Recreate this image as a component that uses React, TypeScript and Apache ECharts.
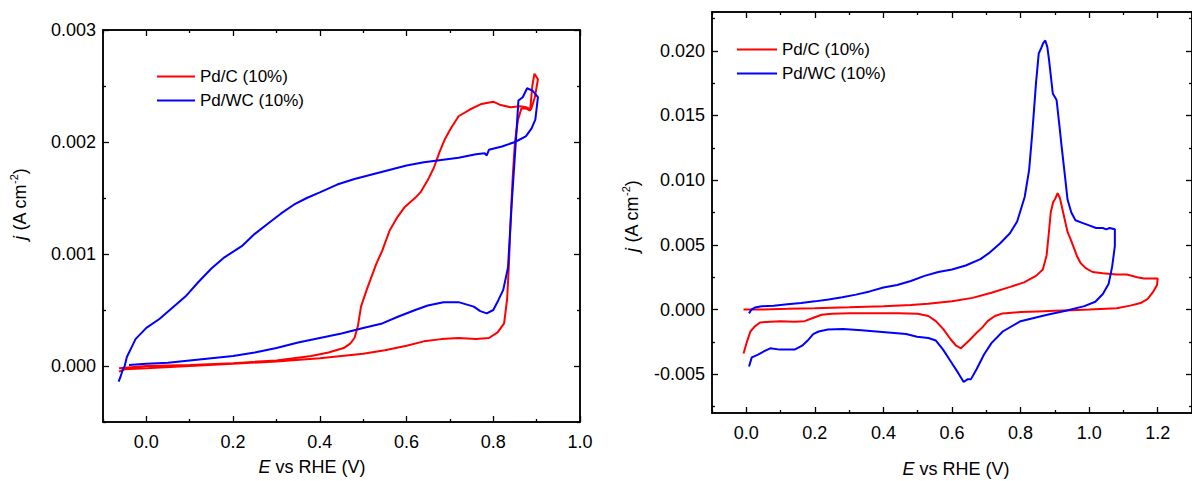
import React, { useEffect, useRef } from 'react';
import * as echarts from 'echarts';

// ---------- data ----------
const seriesNames = ['Pd/C (10%)', 'Pd/WC (10%)'];
const seriesColors = ['#ff0000', '#0000ff'];

const leftXMajor = [0, 0.2, 0.4, 0.6, 0.8, 1.0];
const leftXMinor = [-0.1, 0.1, 0.3, 0.5, 0.7, 0.9];
const leftYMajor = [0, 0.001, 0.002, 0.003];
const leftYMinor = [-0.0005, 0.0005, 0.0015, 0.0025];

const rightXMajor = [0, 0.2, 0.4, 0.6, 0.8, 1.0, 1.2];
const rightXMinor = [-0.1, 0.1, 0.3, 0.5, 0.7, 0.9, 1.1, 1.3];
const rightYMajor = [-0.005, 0, 0.005, 0.01, 0.015, 0.02];
const rightYMinor = [-0.0075, -0.0025, 0.0025, 0.0075, 0.0125, 0.0175, 0.0225];

// Left panel: Pd/C (10%)
const pdcLeft: [number, number][] = [
  [-0.063, -0.00005], [-0.05, -0.00003], [0.0, -0.00002], [0.1, 0.0], [0.2, 0.00002],
  [0.3, 0.00004], [0.4, 0.00007], [0.45, 0.00009], [0.5, 0.00011], [0.55, 0.00014],
  [0.6, 0.00018], [0.64, 0.00022], [0.68, 0.00024], [0.72, 0.00025], [0.76, 0.00024],
  [0.79, 0.00025], [0.81, 0.0003], [0.825, 0.00038], [0.832, 0.0006], [0.836, 0.0009],
  [0.84, 0.0013], [0.845, 0.0017], [0.85, 0.002], [0.857, 0.0022], [0.865, 0.0023],
  [0.875, 0.0023], [0.885, 0.00228], [0.89, 0.0025], [0.895, 0.00261], [0.903, 0.00256],
  [0.896, 0.0024], [0.887, 0.00229], [0.875, 0.00231], [0.862, 0.00232], [0.84, 0.00231],
  [0.817, 0.00233], [0.8, 0.00236], [0.773, 0.00234], [0.746, 0.00229], [0.72, 0.00223],
  [0.702, 0.00212], [0.689, 0.00203], [0.676, 0.00191], [0.663, 0.00177], [0.649, 0.00166],
  [0.632, 0.00155], [0.622, 0.00151], [0.596, 0.00142], [0.579, 0.00133], [0.561, 0.00121],
  [0.544, 0.00103], [0.53, 0.00091], [0.508, 0.00068], [0.495, 0.00053], [0.488, 0.00036],
  [0.48, 0.00025], [0.47, 0.0002], [0.455, 0.00016], [0.42, 0.00012], [0.38, 0.00009],
  [0.3, 0.00005], [0.2, 0.000025], [0.1, 0.00001], [0.0, 0.0], [-0.063, -0.00002],
];

// Left panel: Pd/WC (10%)
const pdwcLeft: [number, number][] = [
  [-0.064, -0.00014], [-0.06, -0.0001], [-0.055, -0.00004], [-0.05, 0.0], [-0.045, 0.00008],
  [-0.035, 0.00016], [-0.025, 0.00024], [-0.01, 0.0003], [0.0, 0.00034], [0.03, 0.00042],
  [0.06, 0.00052], [0.09, 0.00062], [0.12, 0.00075], [0.15, 0.00087], [0.18, 0.00097],
  [0.22, 0.00107], [0.25, 0.00118], [0.28, 0.00127], [0.31, 0.00136], [0.34, 0.00144],
  [0.37, 0.0015], [0.4, 0.00155], [0.44, 0.00162], [0.48, 0.00167], [0.52, 0.00171],
  [0.56, 0.00175], [0.6, 0.00179], [0.64, 0.00182], [0.68, 0.00184], [0.72, 0.00186],
  [0.76, 0.00189], [0.78, 0.0019], [0.785, 0.00188], [0.79, 0.00193], [0.82, 0.00196],
  [0.85, 0.002], [0.875, 0.00205], [0.888, 0.00212], [0.897, 0.0022], [0.903, 0.0024],
  [0.89, 0.00246], [0.878, 0.00248], [0.868, 0.0024], [0.858, 0.00237], [0.852, 0.002],
  [0.843, 0.00148], [0.834, 0.00088], [0.823, 0.00068], [0.812, 0.00059], [0.8, 0.0005],
  [0.785, 0.00047], [0.77, 0.00049], [0.755, 0.00053], [0.72, 0.00057], [0.685, 0.00057],
  [0.649, 0.00054], [0.62, 0.0005], [0.58, 0.00044], [0.544, 0.00038], [0.5, 0.00034],
  [0.45, 0.00029], [0.4, 0.00025], [0.35, 0.00021], [0.3, 0.00016], [0.25, 0.00012],
  [0.2, 0.00009], [0.15, 0.00007], [0.1, 0.00005], [0.05, 0.00003], [0.0, 0.00002],
  [-0.04, 0.00001],
];

// Right panel: Pd/C (10%)
const pdcRight: [number, number][] = [
  [-0.008, 0.0], [0.05, 0.00001], [0.12, 0.00005], [0.2, 0.0001], [0.3, 0.00017],
  [0.4, 0.00025], [0.48, 0.00035], [0.53, 0.00045], [0.6, 0.00064], [0.66, 0.0009],
  [0.715, 0.0013], [0.77, 0.00175], [0.81, 0.0021], [0.845, 0.0026], [0.865, 0.0031],
  [0.876, 0.0042], [0.882, 0.0058], [0.888, 0.0075], [0.895, 0.0083], [0.9, 0.0085],
  [0.908, 0.009], [0.915, 0.0086], [0.925, 0.0074], [0.937, 0.006], [0.945, 0.0055],
  [0.955, 0.0048], [0.965, 0.0041], [0.975, 0.0036], [0.99, 0.0032], [1.01, 0.0029],
  [1.04, 0.0028], [1.08, 0.0027], [1.11, 0.0027], [1.14, 0.0025], [1.16, 0.0024],
  [1.2, 0.0024], [1.198, 0.0019], [1.185, 0.0013], [1.17, 0.0008], [1.15, 0.0005],
  [1.12, 0.0003], [1.08, 0.0001], [1.0, 0.0], [0.95, -0.00005], [0.9, -0.0001],
  [0.85, -0.00015], [0.8, -0.0002], [0.748, -0.0003], [0.725, -0.0005], [0.704, -0.0009],
  [0.688, -0.0014], [0.672, -0.0018], [0.65, -0.0024], [0.626, -0.003], [0.612, -0.0028],
  [0.596, -0.0023], [0.574, -0.0015], [0.553, -0.0009], [0.531, -0.0005], [0.5, -0.00033],
  [0.444, -0.00028], [0.38, -0.00028], [0.3, -0.00028], [0.25, -0.00032], [0.22, -0.0004],
  [0.2, -0.0006], [0.17, -0.0009], [0.14, -0.00095], [0.1, -0.0009], [0.07, -0.00095],
  [0.04, -0.001], [0.025, -0.0013], [0.012, -0.0017], [0.003, -0.0024], [-0.008, -0.0034],
];

// Right panel: Pd/WC (10%)
const pdwcRight: [number, number][] = [
  [0.008, -0.0003], [0.015, 0.0], [0.025, 0.00015], [0.045, 0.00025], [0.08, 0.0003],
  [0.12, 0.0004], [0.16, 0.0005], [0.2, 0.00063], [0.24, 0.00078], [0.28, 0.00095],
  [0.32, 0.00115], [0.36, 0.0014], [0.4, 0.0017], [0.44, 0.0019], [0.48, 0.0022],
  [0.52, 0.0026], [0.56, 0.0029], [0.6, 0.0031], [0.64, 0.0034], [0.683, 0.0039],
  [0.71, 0.0044], [0.74, 0.0051], [0.769, 0.0059], [0.79, 0.0068], [0.812, 0.0087],
  [0.825, 0.0108], [0.834, 0.0136], [0.84, 0.0157], [0.845, 0.0175], [0.853, 0.0198],
  [0.86, 0.0202], [0.866, 0.0206], [0.872, 0.0208], [0.878, 0.0203], [0.883, 0.0193],
  [0.894, 0.0167], [0.905, 0.0162], [0.913, 0.0143], [0.921, 0.0123], [0.93, 0.0102],
  [0.937, 0.0085], [0.948, 0.0075], [0.96, 0.0069], [0.98, 0.0067], [1.0, 0.0065],
  [1.02, 0.0063], [1.04, 0.0063], [1.05, 0.0062], [1.06, 0.0063], [1.075, 0.0062],
  [1.075, 0.0049], [1.067, 0.0033], [1.057, 0.002], [1.04, 0.0012], [1.018, 0.0006],
  [0.986, 0.00026], [0.932, -0.0001], [0.878, -0.0004], [0.8, -0.0009], [0.748, -0.0017],
  [0.715, -0.0026], [0.693, -0.0035], [0.672, -0.0046], [0.655, -0.0054], [0.645, -0.0054],
  [0.634, -0.0056], [0.618, -0.0049], [0.596, -0.004], [0.574, -0.0031], [0.553, -0.0024],
  [0.531, -0.0022], [0.498, -0.0021], [0.466, -0.0019], [0.423, -0.0018], [0.379, -0.0017],
  [0.336, -0.0016], [0.282, -0.0015], [0.238, -0.00155], [0.211, -0.0017], [0.195, -0.0019],
  [0.179, -0.0024], [0.163, -0.0028], [0.141, -0.0031], [0.098, -0.0031], [0.07, -0.003],
  [0.054, -0.0032], [0.033, -0.0035], [0.016, -0.0037], [0.008, -0.0044],
];

// ---------- styling helpers ----------
const FONT = '"Liberation Sans", Arial, Helvetica, sans-serif';
const INK = '#000';

function makeAxis(
  gridIndex: number,
  position: string,
  min: number,
  max: number,
  values: number[],
  tickLen: number,
  labelDecimals: number | null,
  margin: number
) {
  return {
    type: 'value',
    gridIndex,
    position,
    min,
    max,
    axisLine: { show: true, onZero: false, lineStyle: { color: INK, width: 1.5 } },
    splitLine: { show: false },
    axisTick: {
      show: true,
      inside: true,
      length: tickLen,
      customValues: values,
      lineStyle: { color: INK, width: 1.3 },
    },
    axisLabel:
      labelDecimals === null
        ? { show: false }
        : {
            show: true,
            customValues: values,
            formatter: (v: number) => v.toFixed(labelDecimals),
            fontSize: 18,
            fontFamily: FONT,
            color: INK,
            margin,
          },
  };
}

function panelXAxes(g: number, min: number, max: number, major: number[], minor: number[]) {
  return [
    makeAxis(g, 'bottom', min, max, major, 6, 1, 11),
    makeAxis(g, 'bottom', min, max, minor, 3, null, 0),
    makeAxis(g, 'top', min, max, major, 6, null, 0),
    makeAxis(g, 'top', min, max, minor, 3, null, 0),
  ];
}
function panelYAxes(g: number, min: number, max: number, major: number[], minor: number[]) {
  return [
    makeAxis(g, 'left', min, max, major, 6, 3, 7),
    makeAxis(g, 'left', min, max, minor, 3, null, 0),
    makeAxis(g, 'right', min, max, major, 6, null, 0),
    makeAxis(g, 'right', min, max, minor, 3, null, 0),
  ];
}

const titleRich = {
  i: { fontStyle: 'italic', fontSize: 18, fontFamily: FONT, fill: INK, color: INK },
  n: { fontSize: 18, fontFamily: FONT, fill: INK, color: INK },
  sup: { fontSize: 11, fontFamily: FONT, fill: INK, color: INK, verticalAlign: 'top', padding: [0, 0, 12, 0] },
};

function titleText(x: number, y: number, text: string, rotation = 0) {
  return {
    type: 'text',
    x,
    y,
    rotation,
    silent: true,
    style: {
      text,
      rich: titleRich,
      fontSize: 18,
      fontFamily: FONT,
      fill: INK,
      align: 'center',
      verticalAlign: 'middle',
      textAlign: 'center',
      textVerticalAlign: 'middle',
    },
  };
}

function legendAt(left: number, top: number, itemWidth: number) {
  return {
    left,
    top,
    orient: 'vertical',
    icon: 'rect',
    itemWidth,
    itemHeight: 2,
    itemGap: 7,
    selectedMode: false,
    data: seriesNames,
    textStyle: { fontSize: 17, fontFamily: FONT, color: INK },
  };
}

export default function App() {
  const ref = useRef<HTMLDivElement>(null);
  useEffect(() => {
    if (!ref.current) return;
    const chart = echarts.init(ref.current, null, { renderer: 'svg' });
    const option = {
      animation: false,
      backgroundColor: '#fff',
      grid: [
        { left: 103, top: 30, width: 477, height: 392, containLabel: false },
        { left: 712, top: 12, width: 488, height: 401, containLabel: false },
      ],
      xAxis: [
        ...panelXAxes(0, -0.1, 1.0, leftXMajor, leftXMinor),
        ...panelXAxes(1, -0.1, 1.3, rightXMajor, rightXMinor),
      ],
      yAxis: [
        ...panelYAxes(0, -0.0005, 0.003, leftYMajor, leftYMinor),
        ...panelYAxes(1, -0.008, 0.023, rightYMajor, rightYMinor),
      ],
      legend: [legendAt(152, 63, 38), legendAt(732, 36, 40)],
      series: [
        { data: pdcLeft, name: seriesNames[0], color: seriesColors[0], xAxisIndex: 0, yAxisIndex: 0 },
        { data: pdwcLeft, name: seriesNames[1], color: seriesColors[1], xAxisIndex: 0, yAxisIndex: 0 },
        { data: pdcRight, name: seriesNames[0], color: seriesColors[0], xAxisIndex: 4, yAxisIndex: 4 },
        { data: pdwcRight, name: seriesNames[1], color: seriesColors[1], xAxisIndex: 4, yAxisIndex: 4 },
      ].map((s) => ({
        type: 'line',
        name: s.name,
        data: s.data,
        xAxisIndex: s.xAxisIndex,
        yAxisIndex: s.yAxisIndex,
        symbol: 'none',
        showSymbol: false,
        smooth: false,
        clip: true,
        itemStyle: { color: s.color },
        lineStyle: { color: s.color, width: 2 },
      })),
      graphic: [
        titleText(312, 467, '{i|E}{n| vs RHE (V)}'),
        titleText(956, 469, '{i|E}{n| vs RHE (V)}'),
        titleText(20, 204, '{i|j}{n| (A cm}{sup|-2}{n|)}', Math.PI / 2),
        titleText(632, 216, '{i|j}{n| (A cm}{sup|-2}{n|)}', Math.PI / 2),
      ],
    };
    chart.setOption(option as any);
    return () => chart.dispose();
  }, []);
  return (
    <div
      ref={ref}
      style={{ position: 'absolute', left: 0, top: 0, width: 1192, height: 481, overflow: 'hidden' }}
    />
  );
}
